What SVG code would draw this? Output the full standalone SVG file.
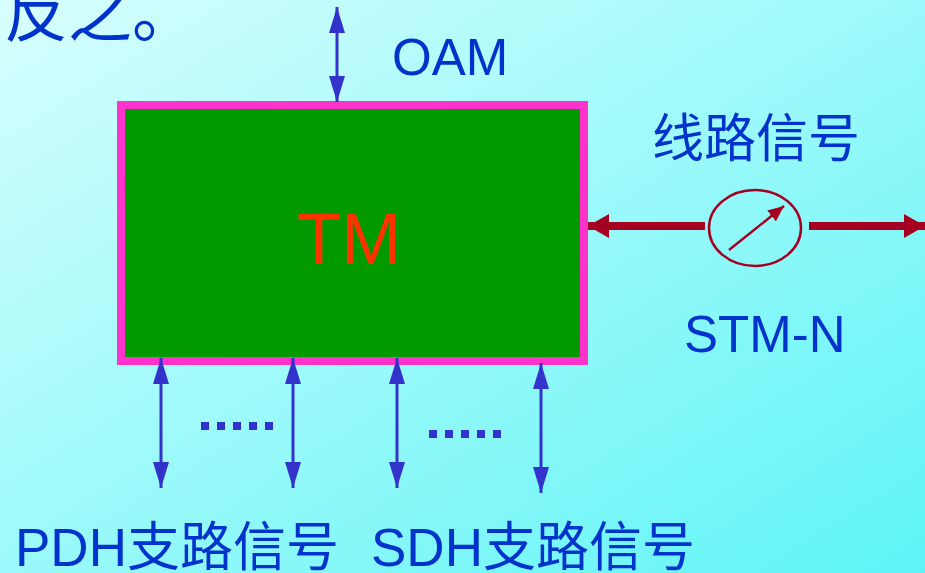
<svg xmlns="http://www.w3.org/2000/svg" width="925" height="573" viewBox="0 0 925 573">
<defs>
<linearGradient id="bg" x1="0" y1="0" x2="1" y2="1">
<stop offset="0" stop-color="#d8fefe"/>
<stop offset="1" stop-color="#5ef4f6"/>
</linearGradient>
<marker id="bh" markerUnits="userSpaceOnUse" markerWidth="26" markerHeight="16" refX="26" refY="8" orient="auto-start-reverse" viewBox="0 0 26 16">
<path d="M0,0 L26,8 L0,16 Z" fill="#3333cc"/>
</marker>
<marker id="rh" markerUnits="userSpaceOnUse" markerWidth="21" markerHeight="24" refX="21" refY="12" orient="auto-start-reverse" viewBox="0 0 21 24">
<path d="M0,0 L21,12 L0,24 Z" fill="#a50021"/>
</marker>
<marker id="sh" markerUnits="userSpaceOnUse" markerWidth="16" markerHeight="14" refX="16" refY="7" orient="auto" viewBox="0 0 16 14">
<path d="M0,0 L16,7 L0,14 Z" fill="#a50021"/>
</marker>
<style>
.lbl{font-family:"Liberation Sans","Noto Sans CJK SC",sans-serif;fill:#0033cc}
.blue{stroke:#3333cc;stroke-width:3;fill:none;marker-start:url(#bh);marker-end:url(#bh)}
.red{stroke:#a50021;stroke-width:8;fill:none}
.dot{fill:#3333cc}
</style>
</defs>
<rect width="925" height="573" fill="url(#bg)"/>
<text class="lbl" x="4" y="36" font-size="64">反之。</text>

<g id="TM">
<rect x="121" y="105" width="463" height="256" fill="#009900" stroke="#ff33cc" stroke-width="8"/>
<text x="349" y="264" font-family="Liberation Sans, sans-serif" font-size="72" fill="#ff3300" text-anchor="middle">TM</text>
</g>

<g id="meter">
<ellipse cx="755" cy="228" rx="46" ry="38" fill="none" stroke="#a50021" stroke-width="2.5"/>
<line x1="729" y1="250" x2="784" y2="206" stroke="#a50021" stroke-width="2.5" marker-end="url(#sh)"/>
</g>

<g id="connectors">
<line class="blue" x1="337" y1="7" x2="337" y2="102"/>
<line class="blue" x1="161" y1="358" x2="161" y2="488"/>
<line class="blue" x1="293" y1="358" x2="293" y2="488"/>
<line class="blue" x1="397" y1="358" x2="397" y2="488"/>
<line class="blue" x1="541" y1="363" x2="541" y2="493"/>
<line class="red" x1="705" y1="226" x2="588" y2="226" marker-end="url(#rh)"/>
<line class="red" x1="809" y1="226" x2="925" y2="226" marker-end="url(#rh)"/>
</g>

<g id="dots1">
<rect class="dot" x="201" y="422" width="8" height="8"/>
<rect class="dot" x="217" y="422" width="8" height="8"/>
<rect class="dot" x="233" y="422" width="8" height="8"/>
<rect class="dot" x="249" y="422" width="8" height="8"/>
<rect class="dot" x="265" y="422" width="8" height="8"/>
</g>
<g id="dots2">
<rect class="dot" x="429" y="430" width="8" height="8"/>
<rect class="dot" x="445" y="430" width="8" height="8"/>
<rect class="dot" x="461" y="430" width="8" height="8"/>
<rect class="dot" x="477" y="430" width="8" height="8"/>
<rect class="dot" x="493" y="430" width="8" height="8"/>
</g>

<g id="labels">
<text class="lbl" x="392" y="75" font-size="51">OAM</text>
<text class="lbl" x="652" y="157" font-size="52">线路信号</text>
<text class="lbl" x="684" y="352" font-size="51">STM-N</text>
<text class="lbl" x="15" y="566" font-size="53">PDH支路信号</text>
<text class="lbl" x="371" y="566" font-size="53">SDH支路信号</text>
</g>
</svg>
